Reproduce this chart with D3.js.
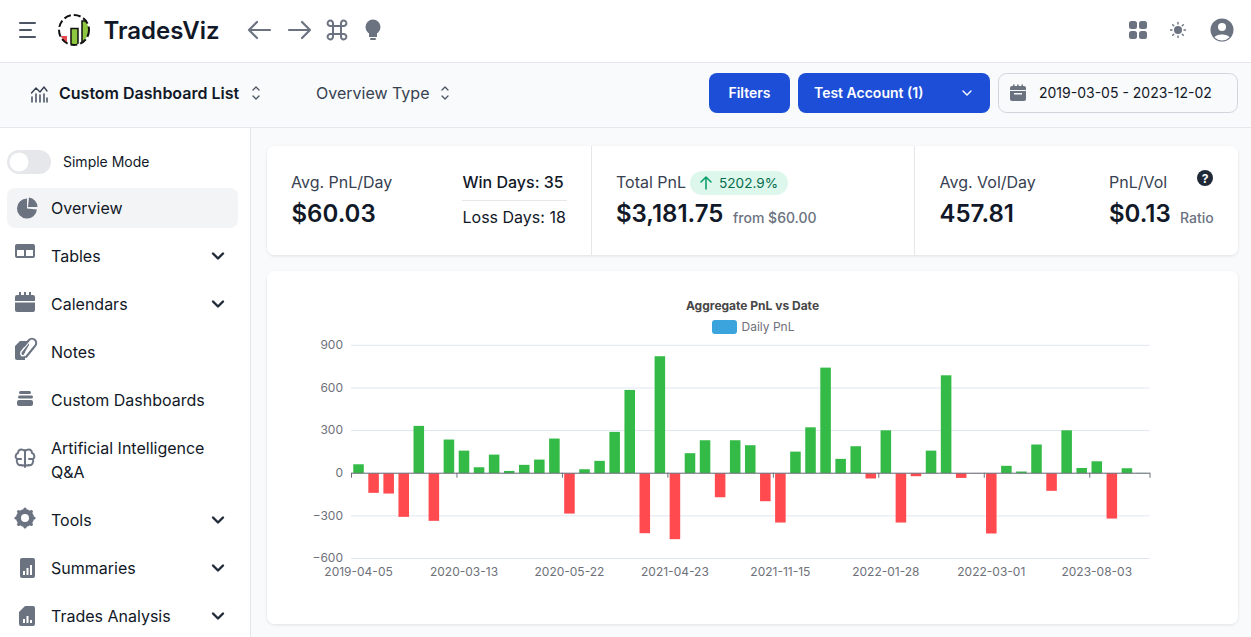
<!DOCTYPE html>
<html>
<head>
<meta charset="utf-8">
<script src="https://cdnjs.cloudflare.com/ajax/libs/d3/7.8.5/d3.min.js"></script>
<style>
    html, body { margin: 0; padding: 0; background: #F9FAFB; overflow: hidden; }
    svg { display: block; font-family: Inter, "Noto Sans", sans-serif; }
    .y.axis .domain { display: none; }
    .y.axis line { stroke: #E0E6F1; }
    .y.axis text, .x.labels text { fill: #6E7079; font-size: 12px; font-family: Inter, sans-serif; }
    .x.labels .domain, .x.labels line { display: none; }
    .x.ticks .domain, .x.ticks line { stroke: #6E7079; }
    .x.ticks text { display: none; }
</style>
</head>
<body>
<div id="page"></div>
<script>
// chart data, one value per trading period
var pnlValues = [63, -138, -143, -307, 333, -335, 237, 159, 42, 131, 16, 59, 96, 244, -284, 28, 87, 291, 586, -422,
    823, -464, 141, 232, -169, 232, 197, -197, -347, 152, 323, 743, 101, 190, -37, 302, -347, -21, 159, 689,
    -33, -2, -424, 52, 12, 202, -124, 302, 37, 84, -319, 35, 2];
var tickLabels = ['2019-04-05', '2020-03-13', '2020-05-22', '2021-04-23', '2021-11-15', '2022-01-28', '2022-03-01', '2023-08-03'];
var labelStep = 7;
var yTicks = [-600, -300, 0, 300, 600, 900];

var menuItems = ['Overview', 'Tables', 'Calendars', 'Notes', 'Custom Dashboards', 'Tools', 'Summaries', 'Trades Analysis'];
var menuBaselines = [214, 262, 310, 358, 406, 526, 574, 622];
var menuChevrons = ['Tables', 'Calendars', 'Tools', 'Summaries', 'Trades Analysis'];

var width = 1251;
var height = 637;
var grey = '#6B7280';
var dark = '#111827';

var svg = d3.select('#page').append('svg')
    .attr('width', width)
    .attr('height', height)
    .attr('viewBox', '0 0 ' + width + ' ' + height);

function box(x, y, w, h, fill, r) {
    return svg.append('rect')
        .attr('x', x).attr('y', y).attr('width', w).attr('height', h)
        .attr('rx', r || 0).attr('fill', fill);
}

function label(str, x, y, size, weight, color, anchor) {
    return svg.append('text')
        .attr('x', x).attr('y', y)
        .attr('font-size', size)
        .attr('font-weight', weight)
        .attr('fill', color)
        .attr('text-anchor', anchor || 'start')
        .text(str);
}

function stroked(d, color, w) {
    return svg.append('path')
        .attr('d', d)
        .attr('fill', 'none')
        .attr('stroke', color)
        .attr('stroke-width', w)
        .attr('stroke-linecap', 'round')
        .attr('stroke-linejoin', 'round');
}

function filled(d, color) {
    return svg.append('path').attr('d', d).attr('fill', color);
}

function chevron(x, y) {
    stroked('M' + (x - 5) + ' ' + (y - 2.5) + 'L' + x + ' ' + (y + 2.5) + 'L' + (x + 5) + ' ' + (y - 2.5), '#1F2937', 2.4);
}

function upDown(x, y) {
    stroked('M' + (x - 3) + ' ' + (y - 3) + 'L' + x + ' ' + (y - 6) + 'L' + (x + 3) + ' ' + (y - 3), '#4B5563', 1.3);
    stroked('M' + (x - 3) + ' ' + (y + 3) + 'L' + x + ' ' + (y + 6) + 'L' + (x + 3) + ' ' + (y + 3), '#4B5563', 1.3);
}

// page frame
box(0, 0, width, 63, '#ffffff');
box(0, 62, width, 1, '#E5E7EB');
box(0, 127, width, 1, '#E5E7EB');
box(0, 128, 250, height - 128, '#ffffff');
box(250, 128, 1, height - 128, '#E5E7EB');

// top bar
stroked('M20 23H35M20 30H31M20 37H35', '#4B5563', 2);

// logo
svg.append('defs').append('clipPath').attr('id', 'logoClip')
    .append('circle').attr('cx', 74).attr('cy', 30).attr('r', 14.5);
var logo = svg.append('g').attr('clip-path', 'url(#logoClip)');
logo.append('path').attr('d', 'M61 36L67 36L67 46L61 46Z').attr('fill', '#E5484D');
logo.append('rect').attr('x', 71).attr('y', 28.5).attr('width', 7).attr('height', 18)
    .attr('fill', '#8DC63F').attr('stroke', '#111').attr('stroke-width', 1.5);
logo.append('rect').attr('x', 82).attr('y', 21).attr('width', 10).attr('height', 26)
    .attr('fill', '#8DC63F').attr('stroke', '#111').attr('stroke-width', 1.5);
svg.append('circle').attr('cx', 74).attr('cy', 30).attr('r', 15)
    .attr('fill', 'none').attr('stroke', '#111').attr('stroke-width', 2).attr('stroke-dasharray', '7 3');

label('TradesViz', 103.5, 39, 24, 600, dark);

stroked('M270 30H249M257 22L249 30L257 38', grey, 2.2);
stroked('M289 30H310M302 22L310 30L302 38', grey, 2.2);
stroked('M333 26V34M341 26V34M333 26H341M333 34H341M333 26H330.5A2.7 2.7 0 1 1 333 23.5V26M341 26V23.5A2.7 2.7 0 1 1 343.5 26H341M333 34V36.5A2.7 2.7 0 1 1 330.5 34H333M341 34H343.5A2.7 2.7 0 1 1 341 36.5V34', grey, 2);
svg.append('circle').attr('cx', 373).attr('cy', 27).attr('r', 7.5).attr('fill', grey);
box(369, 33, 8, 4, grey);
box(370, 38, 6, 2, grey, 1);

[[1129, 21], [1139, 21], [1129, 31], [1139, 31]].forEach(function (p) {
    box(p[0], p[1], 8, 8, grey, 2.5);
});
svg.append('circle').attr('cx', 1178).attr('cy', 30).attr('r', 4).attr('fill', grey);
d3.range(8).forEach(function (i) {
    var a = i * Math.PI / 4;
    stroked('M' + (1178 + 6 * Math.cos(a)) + ' ' + (30 + 6 * Math.sin(a)) + 'L' + (1178 + 7.5 * Math.cos(a)) + ' ' + (30 + 7.5 * Math.sin(a)), grey, 1.4);
});
svg.append('circle').attr('cx', 1222).attr('cy', 30).attr('r', 11.5).attr('fill', grey);
svg.append('circle').attr('cx', 1222).attr('cy', 27).attr('r', 4).attr('fill', '#ffffff');
filled('M1214.5 37.5C1216 33.5 1228 33.5 1229.5 37.5A11 11 0 0 1 1214.5 37.5Z', '#ffffff');

// second bar
stroked('M32 102V97M36 102V94M40 102V95M44 102V94M47 102V98', '#374151', 1.4);
stroked('M31.5 93L36 88L40 92L44 87L47 91', '#374151', 1.4);
label('Custom Dashboard List', 59, 99, 16, 600, dark);
upDown(256, 93);
label('Overview Type', 316, 99, 16, 400, '#374151');
upDown(445, 93);

box(709, 73, 81, 40, '#1D4ED8', 8);
label('Filters', 749.5, 98, 14, 600, '#ffffff', 'middle');
box(798, 73, 192, 40, '#1D4ED8', 8);
label('Test Account (1)', 814, 98, 14, 600, '#ffffff');
stroked('M963 91L967 95L971 91', '#ffffff', 1.4);
svg.append('rect').attr('x', 998.5).attr('y', 73.5).attr('width', 239).attr('height', 39).attr('rx', 8)
    .attr('fill', '#F9FAFB').attr('stroke', '#D1D5DB');
box(1010, 86, 16, 15, grey, 2);
box(1010, 90, 16, 1, '#F9FAFB');
box(1014, 93, 8, 1.5, '#F9FAFB');
box(1013, 84.5, 1.5, 2, grey);
box(1017.2, 84.5, 1.5, 2, grey);
box(1021.5, 84.5, 1.5, 2, grey);
label('2019-03-05 - 2023-12-02', 1039, 98, 14, 400, dark);

// sidebar
box(7, 150, 44, 24, '#E5E7EB', 12);
svg.append('circle').attr('cx', 19).attr('cy', 162).attr('r', 9.5).attr('fill', '#ffffff');
label('Simple Mode', 63, 167, 14, 400, dark);
box(7, 188, 231, 40, '#F3F4F6', 8);

svg.selectAll('text.menu')
    .data(menuItems)
    .enter()
    .append('text')
    .attr('class', 'menu')
    .attr('x', 51)
    .attr('y', function (d, i) { return menuBaselines[i]; })
    .attr('font-size', 16)
    .attr('fill', dark)
    .text(function (d) { return d; });
label('Artificial Intelligence', 51, 454, 16, 400, dark);
label('Q&A', 51, 478, 16, 400, dark);

menuChevrons.forEach(function (name) {
    chevron(218, menuBaselines[menuItems.indexOf(name)] - 6);
});

// sidebar icons
svg.append('path')
    .attr('d', d3.arc().innerRadius(0).outerRadius(10).startAngle(Math.PI / 2 + 0.1).endAngle(Math.PI * 2)())
    .attr('transform', 'translate(27,208.5)')
    .attr('fill', grey);
svg.append('path')
    .attr('d', d3.arc().innerRadius(0).outerRadius(9.5).startAngle(0.1).endAngle(Math.PI / 2)())
    .attr('transform', 'translate(28,207)')
    .attr('fill', grey);
box(15, 244, 20, 14, grey, 2);
box(17, 250, 7, 6, '#ffffff');
box(26, 250, 7, 6, '#ffffff');
box(15, 295, 20, 17, grey, 2);
box(15, 301, 20, 1.5, '#ffffff');
box(19, 292, 2, 4, grey);
box(24, 292, 2, 4, grey);
box(29, 292, 2, 4, grey);
filled('M20 341H29V345L25 352V360H17A2 2 0 0 1 15 358V346Z', grey);
svg.append('path').attr('d', 'M24 355L33 345A2.5 2.5 0 0 0 29 342L21 352C20 355 22 357 25 355L31 348')
    .attr('fill', 'none').attr('stroke', '#ffffff').attr('stroke-width', 1.5);
stroked('M26 357L35 346A4 4 0 0 0 29 340L24 346', grey, 2);
box(19, 391, 12, 3, grey, 1.5);
box(18, 395.5, 15, 3, grey, 1.5);
box(17, 400, 16, 6, grey, 2);
stroked('M25 450V467M25 451C21 448 18 450 18 453C15 454 15 458 17 459C16 462 18 466 21 465C23 466 25 465 25 465M25 451C29 448 32 450 32 453C35 454 35 458 33 459C34 462 32 466 29 465C27 466 25 465 25 465M17 459H21M33 459H29', grey, 2);
svg.append('circle').attr('cx', 25).attr('cy', 518).attr('r', 6.5).attr('fill', 'none').attr('stroke', grey).attr('stroke-width', 5);
d3.range(8).forEach(function (i) {
    var a = i * Math.PI / 4;
    stroked('M' + (25 + 8 * Math.cos(a)) + ' ' + (518 + 8 * Math.sin(a)) + 'L' + (25 + 9 * Math.cos(a)) + ' ' + (518 + 9 * Math.sin(a)), grey, 3.2);
});
box(20, 558, 15, 20, grey, 2);
box(23, 571, 2, 4, '#ffffff');
box(26.5, 568, 2, 7, '#ffffff');
box(30, 565, 2, 10, '#ffffff');
filled('M25 606H33A2 2 0 0 1 35 608V624A2 2 0 0 1 33 626H21A2 2 0 0 1 19 624V612Z', grey);
box(23, 619, 2, 4, '#ffffff');
box(26.5, 616, 2, 7, '#ffffff');
box(30, 620, 2, 3, '#ffffff');

// cards
var shadow = svg.select('defs').append('filter')
    .attr('id', 'cardShadow')
    .attr('x', '-2%').attr('y', '-5%').attr('width', '104%').attr('height', '110%');
shadow.append('feDropShadow')
    .attr('dx', 0).attr('dy', 1).attr('stdDeviation', 1.5)
    .attr('flood-color', '#000000').attr('flood-opacity', 0.1);
box(267, 146, 971, 109, '#ffffff', 8).attr('filter', 'url(#cardShadow)');
box(267, 271, 971, 353, '#ffffff', 8).attr('filter', 'url(#cardShadow)');
box(591, 146, 1, 109, '#E5E7EB');
box(914, 146, 1, 109, '#E5E7EB');

// stat blocks
label('Avg. PnL/Day', 291, 188, 16, 400, '#374151');
label('$60.03', 291.5, 222, 24, 600, dark);
label('Win Days: 35', 462.5, 188, 16, 500, dark);
box(462, 200, 105, 1, '#E5E7EB');
label('Loss Days: 18', 462.5, 223, 16, 400, dark);

label('Total PnL', 616, 188, 16, 400, '#374151');
box(690, 171, 98, 24, '#DEF7EC', 12);
stroked('M706 189V177M701 182L706 177L711 182', '#0E9F6E', 1.6);
label('5202.9%', 719, 188, 13.6, 400, '#046C4E');
label('$3,181.75', 616, 222, 24, 600, dark);
label('from $60.00', 733, 223, 14, 500, grey);

label('Avg. Vol/Day', 939.5, 188, 16, 400, '#374151');
label('457.81', 939.5, 222, 24, 600, dark);
label('PnL/Vol', 1109, 188, 16, 400, '#374151');
label('$0.13', 1109, 222, 24, 600, dark);
label('Ratio', 1180, 223, 14, 500, grey);
svg.append('circle').attr('cx', 1205).attr('cy', 178).attr('r', 8).attr('fill', '#1F2937');
label('?', 1205, 182.5, 12, 700, '#ffffff', 'middle');

// chart
label('Aggregate PnL vs Date', 752.5, 310, 12, 700, '#464646', 'middle');
box(712, 320, 25, 14, '#3BA4DC', 3);
label('Daily PnL', 741.5, 331, 12, 400, '#6E7079');

var margin = { top: 344.8, left: 351, bottom: 558, right: 1149.5 };
var innerW = margin.right - margin.left;
var chart = svg.append('g')
    .attr('transform', 'translate(' + margin.left + ',0)');

var y = d3.scaleLinear()
    .domain([-600, 900])
    .range([margin.bottom, margin.top]);

var x = d3.scaleBand()
    .domain(d3.range(pnlValues.length))
    .range([0, innerW])
    .paddingInner(0.3)
    .paddingOuter(0.15);

// grid lines come from the y axis ticks
chart.append('g')
    .attr('class', 'y axis')
    .call(d3.axisLeft(y).tickValues(yTicks).tickSize(-innerW).tickPadding(8));

chart.append('g')
    .selectAll('rect')
    .data(pnlValues)
    .enter()
    .append('rect')
    .attr('x', function (d, i) { return x(i); })
    .attr('y', function (d) { return y(Math.max(d, 0)) + 0.5; })
    .attr('width', x.bandwidth())
    .attr('height', function (d) { return Math.abs(y(d) - y(0)); })
    .attr('fill', function (d) { return d >= 0 ? '#34BB47' : '#FF4B4F'; });

// ticks sit on the band edges, labels under the band centres
var tickIdx = d3.range(0, pnlValues.length, labelStep).concat([pnlValues.length]);
var xEdge = d3.scaleLinear()
    .domain([0, pnlValues.length])
    .range([0, innerW]);

chart.append('g')
    .attr('class', 'x ticks')
    .attr('transform', 'translate(0,' + y(0) + ')')
    .call(d3.axisBottom(xEdge).tickValues(tickIdx).tickSize(5).tickSizeOuter(0));

var xLabels = d3.range(0, pnlValues.length, labelStep);
chart.append('g')
    .attr('class', 'x labels')
    .attr('transform', 'translate(0,' + (margin.bottom + 6.5) + ')')
    .call(d3.axisBottom(x)
        .tickValues(xLabels)
        .tickSize(0)
        .tickFormat(function (d, i) { return tickLabels[i]; }));
</script>
</body>
</html>
